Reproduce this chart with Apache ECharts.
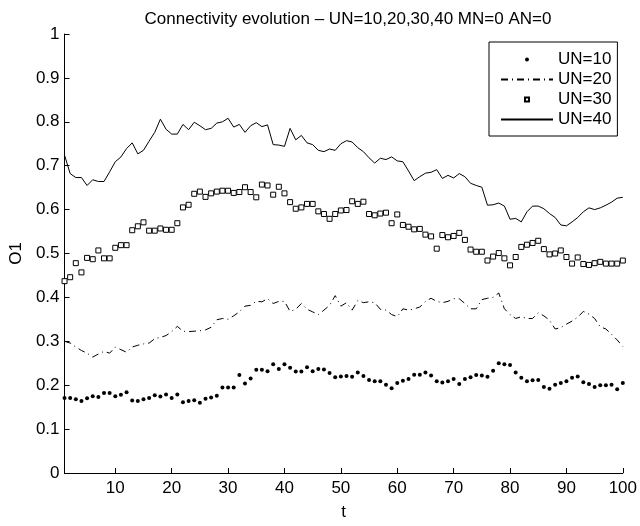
<!DOCTYPE html>
<html>
<head>
<meta charset="utf-8">
<script src="https://cdn.jsdelivr.net/npm/echarts@6/dist/echarts.min.js"></script>
<style>
  html, body { margin: 0; padding: 0; background: #fff; }
  #chart { width: 640px; height: 526px; }
</style>
</head>
<body>
<div id="chart"></div>
<script>
// values, one per t = 1..100
const un10 = [
  0.171, 0.171, 0.168, 0.164, 0.170, 0.175, 0.173, 0.182, 0.182, 0.175,
  0.178, 0.184, 0.165, 0.164, 0.168, 0.171, 0.177, 0.174, 0.179, 0.171,
  0.179, 0.161, 0.164, 0.166, 0.160, 0.169, 0.172, 0.176, 0.195, 0.195,
  0.195, 0.223, 0.204, 0.215, 0.235, 0.235, 0.232, 0.248, 0.237, 0.248,
  0.240, 0.231, 0.231, 0.241, 0.232, 0.237, 0.236, 0.228, 0.218, 0.220,
  0.221, 0.219, 0.229, 0.221, 0.212, 0.209, 0.209, 0.201, 0.193, 0.205,
  0.210, 0.214, 0.224, 0.224, 0.229, 0.222, 0.209, 0.206, 0.209, 0.214,
  0.203, 0.214, 0.218, 0.223, 0.222, 0.219, 0.233, 0.250, 0.248, 0.246,
  0.229, 0.217, 0.209, 0.211, 0.212, 0.196, 0.192, 0.201, 0.205, 0.209,
  0.217, 0.220, 0.207, 0.203, 0.196, 0.200, 0.200, 0.201, 0.191, 0.205
];
const un20 = [
  0.300, 0.296, 0.287, 0.279, 0.273, 0.264, 0.271, 0.277, 0.273, 0.287,
  0.281, 0.275, 0.287, 0.291, 0.294, 0.296, 0.306, 0.309, 0.313, 0.322,
  0.334, 0.323, 0.322, 0.323, 0.324, 0.326, 0.332, 0.349, 0.352, 0.350,
  0.358, 0.367, 0.380, 0.382, 0.391, 0.390, 0.397, 0.386, 0.391, 0.391,
  0.368, 0.373, 0.386, 0.373, 0.367, 0.361, 0.371, 0.382, 0.404, 0.380,
  0.388, 0.371, 0.393, 0.388, 0.390, 0.388, 0.373, 0.371, 0.361, 0.356,
  0.374, 0.371, 0.374, 0.378, 0.391, 0.398, 0.391, 0.388, 0.391, 0.397,
  0.397, 0.386, 0.374, 0.374, 0.395, 0.398, 0.400, 0.410, 0.374, 0.361,
  0.352, 0.356, 0.352, 0.352, 0.365, 0.358, 0.348, 0.328, 0.331, 0.339,
  0.346, 0.355, 0.368, 0.362, 0.352, 0.333, 0.328, 0.316, 0.303, 0.288
];
const un30 = [
  0.437, 0.446, 0.478, 0.457, 0.490, 0.487, 0.507, 0.489, 0.489, 0.513,
  0.519, 0.519, 0.553, 0.562, 0.571, 0.552, 0.552, 0.557, 0.554, 0.554,
  0.569, 0.605, 0.611, 0.636, 0.641, 0.629, 0.637, 0.641, 0.643, 0.643,
  0.638, 0.640, 0.651, 0.640, 0.628, 0.657, 0.655, 0.634, 0.652, 0.637,
  0.617, 0.602, 0.605, 0.613, 0.613, 0.596, 0.590, 0.579, 0.590, 0.598,
  0.599, 0.619, 0.613, 0.618, 0.590, 0.587, 0.591, 0.593, 0.569, 0.589,
  0.565, 0.561, 0.555, 0.556, 0.543, 0.539, 0.511, 0.542, 0.537, 0.540,
  0.547, 0.531, 0.509, 0.504, 0.504, 0.484, 0.493, 0.501, 0.489, 0.473,
  0.492, 0.515, 0.520, 0.524, 0.529, 0.510, 0.498, 0.500, 0.507, 0.492,
  0.477, 0.491, 0.476, 0.474, 0.478, 0.481, 0.477, 0.477, 0.477, 0.484
];
const un40 = [
  0.724, 0.682, 0.673, 0.673, 0.655, 0.668, 0.664, 0.664, 0.686, 0.709,
  0.720, 0.739, 0.752, 0.727, 0.735, 0.756, 0.776, 0.806, 0.783, 0.772,
  0.772, 0.794, 0.782, 0.799, 0.791, 0.782, 0.785, 0.797, 0.800, 0.808,
  0.788, 0.794, 0.776, 0.791, 0.798, 0.789, 0.793, 0.748, 0.747, 0.744,
  0.785, 0.759, 0.769, 0.752, 0.748, 0.735, 0.732, 0.738, 0.735, 0.750,
  0.757, 0.754, 0.741, 0.732, 0.718, 0.706, 0.717, 0.714, 0.720, 0.711,
  0.709, 0.688, 0.666, 0.675, 0.683, 0.685, 0.691, 0.671, 0.678, 0.672,
  0.682, 0.675, 0.660, 0.655, 0.651, 0.610, 0.611, 0.615, 0.608, 0.578,
  0.580, 0.572, 0.595, 0.608, 0.608, 0.602, 0.591, 0.582, 0.565, 0.563,
  0.572, 0.582, 0.595, 0.604, 0.600, 0.604, 0.610, 0.617, 0.626, 0.628
];
const seriesNames = ['UN=10', 'UN=20', 'UN=30', 'UN=40'];
const xTicks = [10, 20, 30, 40, 50, 60, 70, 80, 90, 100];

const font = '"Liberation Sans", Helvetica, Arial, sans-serif';

// pair each value with its t (1..100)
const toPoints = arr => arr.map((v, i) => [i + 1, v]);

const chart = echarts.init(document.getElementById('chart'), null, { renderer: 'canvas' });

const option = {
    animation: false,
    backgroundColor: '#fff',
    title: {
        text: 'Connectivity evolution \u2013 UN=10,20,30,40 MN=0 AN=0',
        left: 343,
        textAlign: 'center',
        top: 6,
        textStyle: { fontFamily: font, fontSize: 17, fontWeight: 'normal', color: '#000' }
    },
    grid: { left: 60, right: 15, top: 34, bottom: 46 },
    legend: {
        orient: 'vertical',
        left: 489,
        top: 42,
        padding: [9, 6, 8, 11],
        itemGap: 3,
        itemWidth: 52,
        itemHeight: 5,
        backgroundColor: '#fff',
        borderColor: '#000',
        borderWidth: 1,
        borderRadius: 0,
        textStyle: { fontFamily: font, fontSize: 17, lineHeight: 17, color: '#000' },
        data: [
            { name: seriesNames[0] },
            { name: seriesNames[1], itemStyle: { opacity: 0 } },
            { name: seriesNames[2] },
            { name: seriesNames[3], itemStyle: { opacity: 0 } }
        ]
    },
    xAxis: {
        type: 'value',
        min: 1,
        max: 100,
        name: 't',
        nameLocation: 'middle',
        nameGap: 31,
        nameTextStyle: { fontFamily: font, fontSize: 17, color: '#000' },
        splitLine: { show: false },
        axisLine: { lineStyle: { color: '#000', width: 1 } },
        axisTick: { inside: true, length: 5, customValues: xTicks, lineStyle: { color: '#000' } },
        axisLabel: { customValues: xTicks, margin: 7, fontFamily: font, fontSize: 17, color: '#000' }
    },
    yAxis: {
        type: 'value',
        min: 0,
        max: 1,
        interval: 0.1,
        name: 'O1',
        nameLocation: 'middle',
        nameGap: 33,
        nameTextStyle: { fontFamily: font, fontSize: 17, color: '#000' },
        splitLine: { show: false },
        axisLine: { show: true, lineStyle: { color: '#000', width: 1 } },
        axisTick: { show: true, inside: true, length: 5, lineStyle: { color: '#000' } },
        axisLabel: { margin: 5, fontFamily: font, fontSize: 17, color: '#000' }
    },
    series: [
        {
            name: seriesNames[0],
            type: 'line',
            data: toPoints(un10),
            symbol: 'circle',
            symbolSize: 4,
            showAllSymbol: true,
            itemStyle: { color: '#000' },
            lineStyle: { width: 0, opacity: 0 }
        },
        {
            name: seriesNames[1],
            type: 'line',
            data: toPoints(un20),
            symbol: 'none',
            itemStyle: { color: '#000' },
            lineStyle: { color: '#000', width: 1, type: [7, 4, 1, 4] }
        },
        {
            name: seriesNames[2],
            type: 'line',
            data: toPoints(un30),
            symbol: 'rect',
            symbolSize: 5,
            showAllSymbol: true,
            itemStyle: { color: '#fff', borderColor: '#000', borderWidth: 1 },
            lineStyle: { width: 0, opacity: 0 }
        },
        {
            name: seriesNames[3],
            type: 'line',
            data: toPoints(un40),
            symbol: 'none',
            itemStyle: { color: '#000' },
            lineStyle: { color: '#000', width: 1 }
        }
    ]
};

chart.setOption(option);
</script>
</body>
</html>
